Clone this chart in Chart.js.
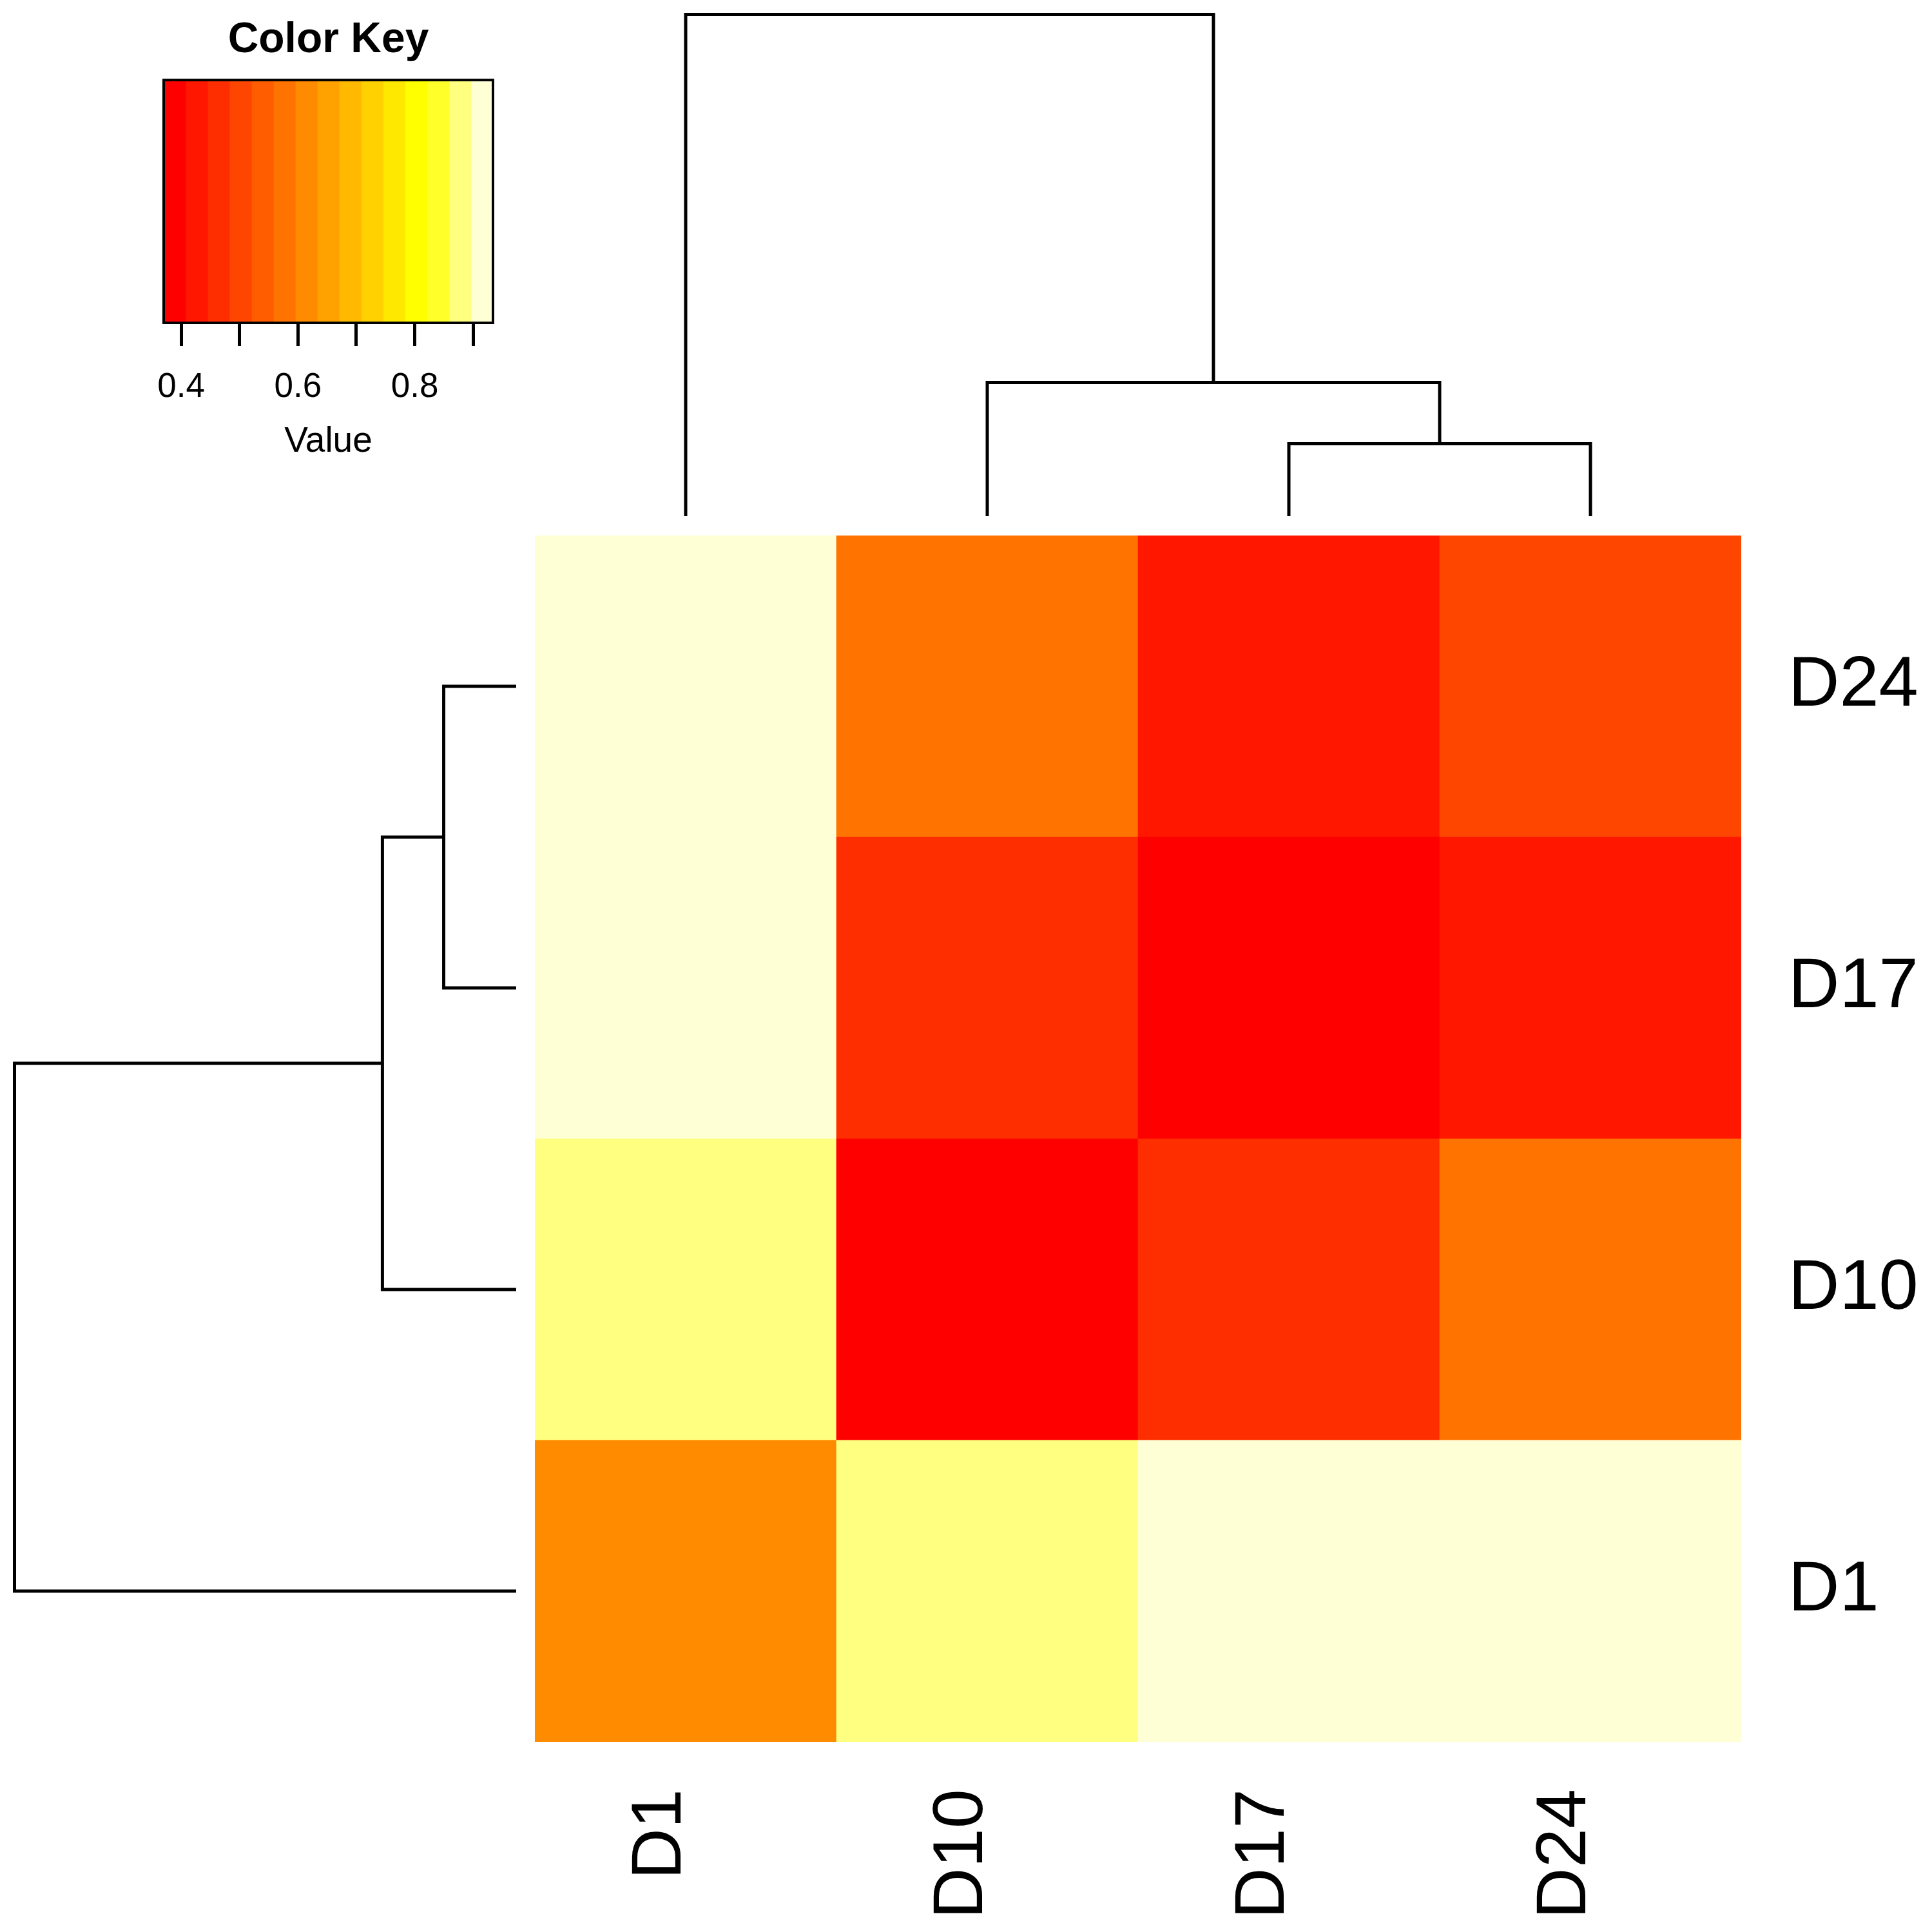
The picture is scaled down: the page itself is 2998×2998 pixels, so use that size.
<!DOCTYPE html>
<html>
<head>
<meta charset="utf-8">
<script src="https://cdn.jsdelivr.net/npm/chart.js@4.4.1/dist/chart.umd.min.js"></script>
<style>
  html, body { margin: 0; padding: 0; background: #ffffff; }
  #stage { position: relative; width: 2998px; height: 2998px; background: #ffffff; overflow: hidden; }
  canvas { position: absolute; }
</style>
</head>
<body>
<div id="stage">
  <canvas id="key"></canvas>
  <canvas id="topDendro"></canvas>
  <canvas id="leftDendro"></canvas>
  <canvas id="heat"></canvas>
</div>
<script>
// ---------------- DATA ----------------
const colLabels = ['D1', 'D10', 'D17', 'D24'];          // left -> right
const rowLabels = ['D1', 'D10', 'D17', 'D24'];          // bottom -> top

// cell values, one array per row (columns in colLabels order)
const rowD1  = [0.62, 0.87, 0.934, 0.92];
const rowD10 = [0.87, 0.39, 0.46, 0.58];
const rowD17 = [0.934, 0.46, 0.37, 0.43];
const rowD24 = [0.92, 0.58, 0.43, 0.50];
const cellValues = [rowD1, rowD10, rowD17, rowD24];

// dendrograms (hclust-style merges: negative = leaf number, positive = earlier merge)
const colDendroMerge = [[-3, -4], [-2, 1], [-1, 2]];
const colDendroHeights = [0.13, 0.24, 0.90];
const rowDendroMerge = [[-3, -4], [-2, 1], [-1, 2]];
const rowDendroHeights = [0.13, 0.24, 0.90];

// colour key
const keyPalette = ['#FF0000', '#FF1700', '#FF2E00', '#FF4600', '#FF5D00', '#FF7400', '#FF8B00',
                    '#FFA200', '#FFB900', '#FFD100', '#FFE800', '#FFFF00', '#FFFF2A', '#FFFF80', '#FFFFD5'];
const keyTickValues = [0.4, 0.5, 0.6, 0.7, 0.8, 0.9];
const keyTickLabels = ['0.4', '', '0.6', '', '0.8', ''];
const keyTitle = 'Color Key';
const keyAxisTitle = 'Value';

// ---------------- HELPERS ----------------
const FONT = "'Liberation Sans', Arial, Helvetica, sans-serif";
Chart.defaults.font.family = FONT;
Chart.defaults.color = '#000000';

const allVals = cellValues.flat();
const vMin = Math.min(...allVals);
const vMax = Math.max(...allVals);
const nBins = keyPalette.length;
const breaks = keyPalette.map((_, k) => vMin + (vMax - vMin) * k / nBins).concat([vMax]);
function colorFor(v) {
  let k = Math.floor((v - vMin) / (vMax - vMin) * nBins);
  if (k >= nBins) k = nBins - 1;
  if (k < 0) k = 0;
  return keyPalette[k];
}

function dendroSegments(merge, heights) {
  const nodes = [];
  const node = id => (id < 0 ? { pos: -id - 1 + 0.5, h: 0 } : nodes[id - 1]);
  const segs = [];
  merge.forEach((m, i) => {
    const a = node(m[0]), b = node(m[1]), h = heights[i];
    segs.push([[a.pos, a.h], [a.pos, h], [b.pos, h], [b.pos, b.h]]);
    nodes.push({ pos: (a.pos + b.pos) / 2, h: h });
  });
  return segs;
}

function place(id, left, top, w, h) {
  const c = document.getElementById(id);
  c.width = w; c.height = h;
  c.style.left = left + 'px'; c.style.top = top + 'px';
  c.style.width = w + 'px'; c.style.height = h + 'px';
  return c;
}

function noPad(s) {
  s.paddingTop = 0; s.paddingBottom = 0; s.paddingLeft = 0; s.paddingRight = 0;
}

const base = {
  responsive: false,
  animation: false,
  devicePixelRatio: 1,
  events: [],
};

// ---------------- LAYOUT ----------------
const HM_LEFT = 830, HM_TOP = 831, HM_SIZE = 1872;
const LABEL_FONT = 110;

// ---------------- HEATMAP ----------------
place('heat', HM_LEFT, HM_TOP, 2998 - HM_LEFT, 2998 - HM_TOP);
new Chart(document.getElementById('heat'), {
  type: 'bar',
  data: {
    labels: colLabels,
    datasets: rowLabels.map((r, i) => ({
      label: r,
      data: colLabels.map(() => [i, i + 1]),
      backgroundColor: cellValues[i].map(colorFor),
      borderWidth: 0,
      grouped: false,
      barPercentage: 1,
      categoryPercentage: 1,
    })),
  },
  options: Object.assign({}, base, {
    layout: { padding: 0 },
    plugins: { legend: { display: false }, tooltip: { enabled: false }, title: { display: false } },
    scales: {
      x: {
        type: 'category',
        position: 'bottom',
        offset: true,
        grid: { display: false, drawTicks: false },
        border: { display: false },
        ticks: {
          minRotation: 90, maxRotation: 90, autoSkip: false,
          padding: 73, labelOffset: -38,
          font: { size: LABEL_FONT }, color: '#000000',
        },
        afterFit: s => { s.height = 2998 - HM_TOP - HM_SIZE; noPad(s); },
      },
      y: {
        type: 'linear',
        position: 'right',
        min: 0, max: rowLabels.length,
        grid: { display: false, drawTicks: false },
        border: { display: false },
        afterBuildTicks: s => { s.ticks = rowLabels.map((_, i) => ({ value: i + 0.5 })); },
        ticks: {
          autoSkip: false, padding: 73,
          font: { size: LABEL_FONT }, color: '#000000',
          callback: v => rowLabels[Math.floor(v)],
        },
        afterFit: s => { s.width = 2998 - HM_LEFT - HM_SIZE; noPad(s); },
      },
    },
  }),
});

// ---------------- DENDROGRAMS ----------------
const lineStyle = {
  showLine: true, pointRadius: 0, borderColor: '#000000', borderWidth: 5,
  borderJoinStyle: 'miter', borderCapStyle: 'butt', tension: 0, clip: false, fill: false,
};

place('topDendro', HM_LEFT, 0, HM_SIZE, HM_TOP - 1);
new Chart(document.getElementById('topDendro'), {
  type: 'scatter',
  data: {
    datasets: dendroSegments(colDendroMerge, colDendroHeights).map(seg =>
      Object.assign({ data: seg.map(([p, h]) => ({ x: p, y: h })) }, lineStyle)),
  },
  options: Object.assign({}, base, {
    layout: { padding: { top: 22.5, bottom: 29, left: 0, right: 0 } },
    plugins: { legend: { display: false }, tooltip: { enabled: false } },
    scales: {
      x: { type: 'linear', display: false, min: 0, max: colLabels.length },
      y: { type: 'linear', display: false, min: 0, max: Math.max(...colDendroHeights) },
    },
  }),
});

place('leftDendro', 0, HM_TOP, HM_LEFT, HM_SIZE);
new Chart(document.getElementById('leftDendro'), {
  type: 'scatter',
  data: {
    datasets: dendroSegments(rowDendroMerge, rowDendroHeights).map(seg =>
      Object.assign({ data: seg.map(([p, h]) => ({ x: h, y: p })) }, lineStyle)),
  },
  options: Object.assign({}, base, {
    layout: { padding: { left: 22.5, right: 29, top: 0, bottom: 0 } },
    plugins: { legend: { display: false }, tooltip: { enabled: false } },
    scales: {
      x: { type: 'linear', display: false, reverse: true, min: 0, max: Math.max(...rowDendroHeights) },
      y: { type: 'linear', display: false, min: 0, max: rowLabels.length },
    },
  }),
});

// ---------------- COLOUR KEY ----------------
const KEY_W = 830, KEY_H = 760;
const keyFrame = {
  id: 'keyFrame',
  afterDatasetsDraw(chart) {
    const { ctx, chartArea: a } = chart;
    ctx.save();
    ctx.strokeStyle = '#000000';
    ctx.lineWidth = 4;
    ctx.strokeRect(a.left, a.top, a.right - a.left, a.bottom - a.top);
    ctx.restore();
  },
};
place('key', 0, 0, KEY_W, KEY_H);
new Chart(document.getElementById('key'), {
  type: 'bar',
  data: {
    labels: [''],
    datasets: keyPalette.map((c, k) => ({
      data: [[breaks[k], breaks[k + 1]]],
      backgroundColor: c,
      borderWidth: 0,
      grouped: false,
      barPercentage: 1,
      categoryPercentage: 1,
    })),
  },
  plugins: [keyFrame],
  options: Object.assign({}, base, {
    indexAxis: 'y',
    layout: { padding: { left: 254, right: KEY_W - 765, top: 0, bottom: 0 } },
    plugins: {
      legend: { display: false },
      tooltip: { enabled: false },
      title: {
        display: true, text: keyTitle, color: '#000000',
        font: { size: 66, weight: 'bold' },
        padding: { top: 23, bottom: 22 },
      },
    },
    scales: {
      x: {
        type: 'linear', position: 'bottom', min: vMin, max: vMax,
        afterBuildTicks: s => { s.ticks = keyTickValues.map(v => ({ value: v })); },
        ticks: {
          autoSkip: false, maxRotation: 0, padding: 33,
          font: { size: 53 }, color: '#000000',
          callback: (v, i) => keyTickLabels[i],
        },
        grid: { display: true, drawOnChartArea: false, drawTicks: true, tickLength: 36, lineWidth: 5, color: '#000000' },
        border: { display: false },
        title: { display: true, text: keyAxisTitle, color: '#000000', font: { size: 55 }, padding: { top: 0, bottom: 41.5 } },
        afterFit: s => { s.height = KEY_H - 501; },
      },
      y: { type: 'category', display: false },
    },
  }),
});
</script>
</body>
</html>
